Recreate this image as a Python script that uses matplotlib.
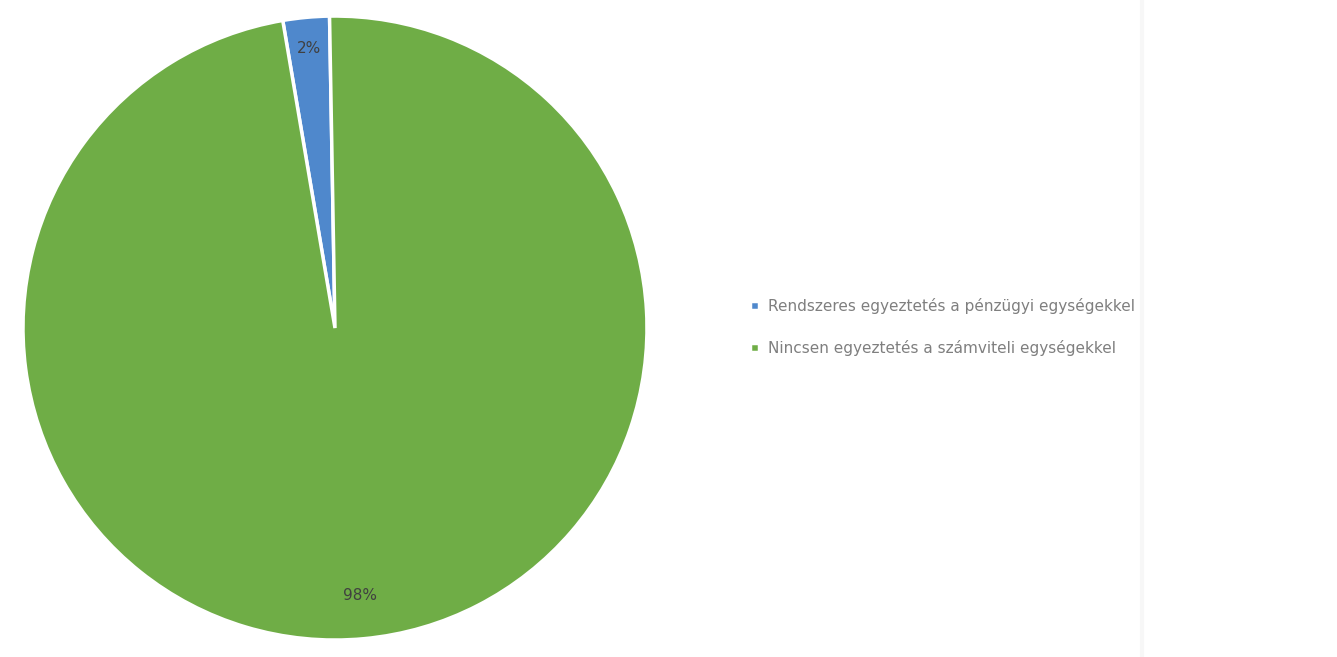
import numpy as np
import matplotlib.pyplot as plt

labels = ['Rendszeres egyeztetés a pénzügyi egységekkel',
          'Nincsen egyeztetés a számviteli egységekkel']
values = [2.4, 97.6]
pct_labels = ['2%', '98%']
colors = ['#4F88CC', '#6FAD46']

fig = plt.figure(figsize=(13.37, 6.57), dpi=100)
ax = fig.add_axes([0.0172, 0.0258, 0.4667, 0.9498])

wedges, texts = ax.pie(
    values, colors=colors, startangle=91, counterclock=True, radius=1.0,
    wedgeprops=dict(edgecolor='white', linewidth=2.5))
ax.set_aspect('equal')
ax.set_xlim(-1.0, 1.0)
ax.set_ylim(-1.0, 1.0)

# percentage labels
for w, lab, d in zip(wedges, pct_labels, [0.9, 0.86]):
    ang = np.deg2rad((w.theta1 + w.theta2) / 2)
    ax.text(d * np.cos(ang), d * np.sin(ang), lab, ha='center', va='center',
            color='#404040', fontsize=11)

# faint divider on the right, as in the source screenshot
fig.add_artist(plt.Line2D([1142 / 1337, 1142 / 1337], [0, 1],
                          color='#f7f7f7', linewidth=3))

leg = fig.legend(wedges, labels, loc='center left',
                 bbox_to_anchor=(742 / 1337, 1 - 327 / 657),
                 frameon=False, fontsize=11, labelspacing=1.7,
                 handlelength=0.6, handleheight=0.6, handletextpad=0.6,
                 borderpad=0)
for t in leg.get_texts():
    t.set_color('#7f7f7f')

fig.savefig('out.png', dpi=100)
